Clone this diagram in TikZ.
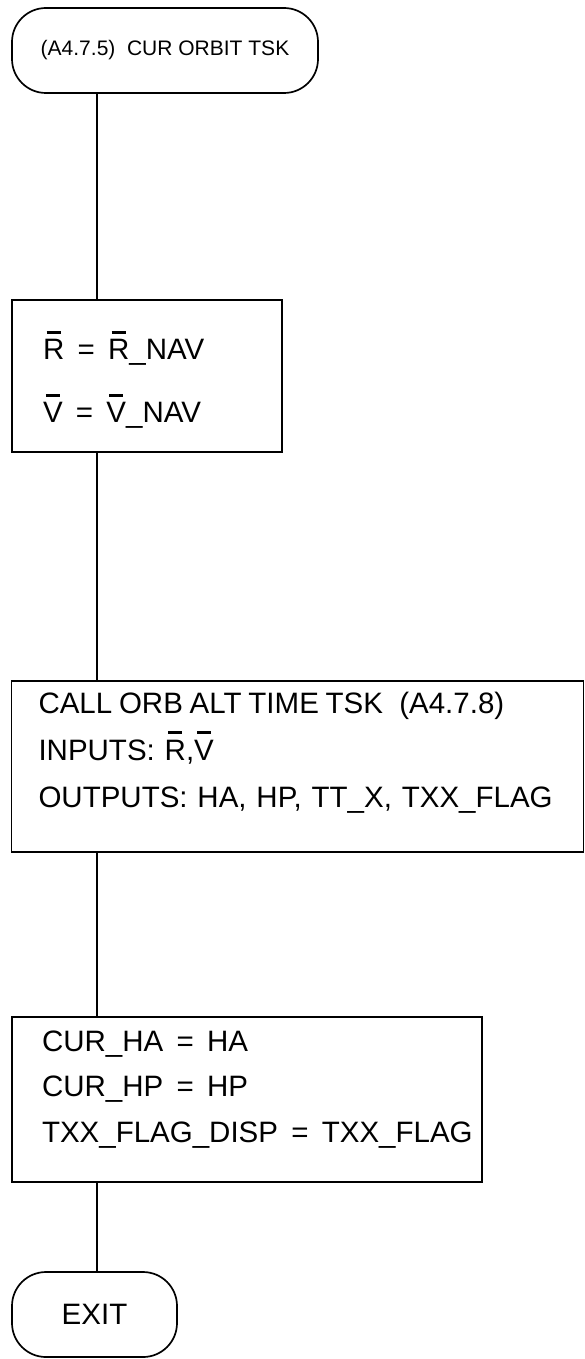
\documentclass[tikz,border=0pt]{standalone}
\usepackage{fontspec}
\setmainfont{Liberation Sans}
\usetikzlibrary{positioning, calc}
\newcommand{\ovl}[1]{\ooalign{#1\cr\hidewidth\rule[26pt]{14pt}{3pt}\hidewidth\cr}}
\newcommand{\eqgap}{\hspace{0.45em}=\hspace{0.45em}}

\begin{document}
\begin{tikzpicture}[x=1pt, y=-1pt, line width=1.7pt,
  font=\fontsize{29.5}{35}\selectfont,
  term/.style={draw, rounded corners=34pt, minimum height=85pt, inner sep=0pt},
  proc/.style={draw, align=left, inner ysep=0pt},
]
  \useasboundingbox (0,0) rectangle (585,1359);
  \coordinate (spine) at (97,0);
  % terminals
  \node[term, minimum width=306pt, font=\fontsize{21}{25}\selectfont] (start) at (165,50.5)
    {(A4.7.5)\ \ CUR ORBIT TSK};
  \node[term, minimum width=165pt] (exit) at (94.5,1314.5) {EXIT};
  % process boxes
  \node[proc, inner xsep=31pt, text width=208pt, minimum height=152pt] (navset) at (147,376)
    {\rule{0pt}{36.4pt}\ovl{R}\eqgap\ovl{R}\_NAV\\[28pt]
     \ovl{V}\eqgap\ovl{V}\_NAV};
  \node[proc, inner xsep=27pt, text width=518pt, minimum height=171pt] (orbcall) at (297.5,766.5)
    {\mbox{\spaceskip=0.23em CALL ORB ALT TIME TSK\hspace{0.55em}(A4.7.8)}\\[12pt]
     INPUTS:\ \ovl{R},\ovl{V}\\[12pt]
     \mbox{OUTPUTS:\ HA, HP, TT\_X, TXX\_FLAG}\\[-0.7pt]\mbox{}};
  \node[proc, inner xsep=30pt, text width=410pt, minimum height=165pt] (curset) at (247,1099.5)
    {CUR\_HA\eqgap HA\\[10.5pt]
     CUR\_HP\eqgap HP\\[10.5pt]
     \mbox{TXX\_FLAG\_DISP\eqgap TXX\_FLAG}\\[-8.7pt]\mbox{}};
  % flow
  \draw (spine |- start.south) -- (spine |- navset.north);
  \draw (spine |- navset.south) -- (spine |- orbcall.north);
  \draw (spine |- orbcall.south) -- (spine |- curset.north);
  \draw (spine |- curset.south) -- (spine |- exit.north);
\end{tikzpicture}
\end{document}
